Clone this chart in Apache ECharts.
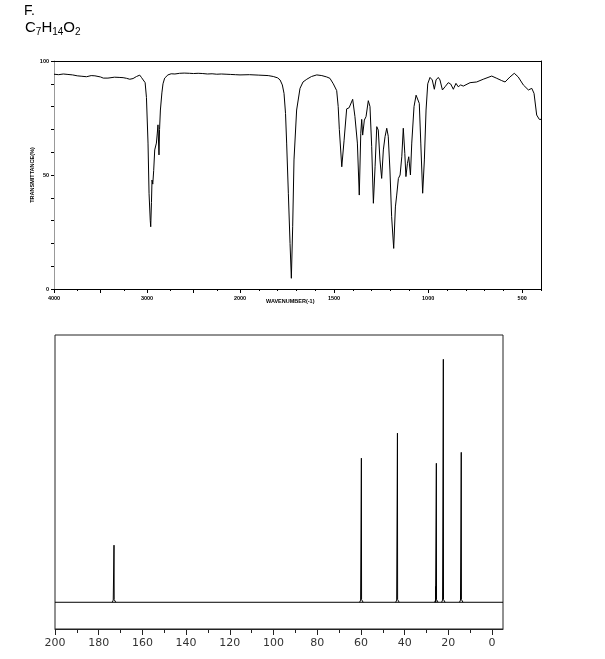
<!DOCTYPE html>
<html><head><meta charset="utf-8">
<script src="https://cdn.jsdelivr.net/npm/echarts@6/dist/echarts.min.js"></script>
<style>html,body{margin:0;padding:0;background:#fff}#c{width:605px;height:659px}</style>
</head><body><div id="c"></div>
<script>
// ---------- IR spectrum (wavenumber cm-1, transmittance %) ----------
const irWavenumber = [4000,3950,3900,3850,3800,3750,3700,3650,3600,3560,3500,3470,3450,3420,3400,3350,3300,3257,3220,3185,3150,3113,3100,3078,3060,3042,3020,3006,2989,2978,2965,2960,2952,2946,2938,2928,2917,2899,2890,2882,2878,2871,2865,2856,2840,2828,2810,2775,2740,2700,2650,2600,2542,2500,2450,2400,2350,2300,2250,2200,2150,2100,2050,2000,1950,1900,1850,1823,1800,1787,1775,1766,1758,1752,1743,1734,1727,1720,1713,1699,1681,1665,1645,1620,1592,1565,1539,1522,1504,1486,1478,1472,1459,1447,1433,1420,1412,1401,1389,1376,1366,1358,1353,1348,1339,1330,1318,1309,1300,1291,1282,1273,1265,1256,1247,1238,1229,1220,1212,1203,1194,1183,1174,1167,1158,1149,1140,1132,1124,1118,1110,1103,1094,1087,1075,1064,1055,1047,1039,1029,1020,1011,1002,990,978,967,958,946,937,924,910,893,880,866,852,840,827,813,777,742,707,662,635,609,591,565,542,521,494,467,449,437,423,409,400];
const irTransmittance = [94.2,94.0,94.3,94.1,93.9,93.5,93.3,93.1,93.6,93.5,93.0,92.5,91.7,92.5,92.8,92.9,92.8,92.7,92.4,92.0,92.3,93.2,92.6,93.8,92.8,92.5,90.5,84,64,42,30,27.3,38,47.8,46,52,61,64,68,72,72,58.8,70,78.5,86,90,92.5,93.9,94.4,94.3,94.6,94.7,94.6,94.5,94.6,94.5,94.3,94.4,94.2,94.3,94.2,94.1,94.0,93.9,94.0,93.8,93.6,93.2,92.6,91.7,89.5,85.8,77,64,42,20,4.7,27.3,56.6,78.5,88,90.8,92,93.2,93.9,93.6,93,92.4,90,87,80,70,53.6,65,79,79.5,80,83.2,75.6,64,41.2,68.3,74.4,67.5,74.1,75.6,82.6,80,62.4,37.6,53.6,71.2,69.7,56.6,48.5,61,66.8,70.5,67,52.2,31.7,17.8,36,41.2,48.5,50,58,70.5,59.5,49.3,55.1,58,50,64,80,85,85.8,81.4,64,42,56.6,78.5,90,92.8,91.7,87.6,91.7,92.8,91.7,87.3,88.7,90.5,89.9,87.6,90.2,88.7,89.5,89,90.5,90.8,92,93.4,92.4,91.4,90.8,93,94.6,93,89.5,87.3,88,85.8,76.3,74.4,74.4];
const irYLabels = [0, 50, 100];
const irXLabelsHigh = [3000, 4000];
const irXMajorHigh = [2500, 3000, 3500, 4000];
const irXMinorHigh = [2250, 2750, 3250, 3750];
const irXLabelsLow = [500, 1000, 1500, 2000];
const irXMinorLow = [400,600,700,800,900,1100,1200,1300,1400,1600,1700,1800,1900];

// ---------- 13C NMR spectrum (ppm, relative intensity) ----------
const nmrShift = [173.0, 59.8, 43.3, 25.8, 25.5, 22.3, 14.1];
const nmrIntensity = [23.5, 59.3, 69.6, 6.5, 57.2, 100, 61.7];
const nmrTicks = [0,20,40,60,80,100,120,140,160,180,200];
const nmrMinorTicks = [10,30,50,70,90,110,130,150,170,190];

// ---------- build series data ----------
const irPairs = irWavenumber.map((w, i) => [w, irTransmittance[i]]);
const irHigh = irPairs.filter(p => p[0] >= 2000);
const irLow = irPairs.filter(p => p[0] <= 2000);

const nmrPeaks = [];
nmrShift.forEach((s, i) => {
  const h = nmrIntensity[i];
  if (h > 20) {
    nmrPeaks.push([s + 0.8, 0], [s + 0.35, 0.9], [s + 0.08, 1.1], [s, h], [s - 0.08, 1.1], [s - 0.35, 0.9], [s - 0.8, 0]);
  } else {
    nmrPeaks.push([s + 0.06, 0], [s, h], [s - 0.06, 0]);
  }
  nmrPeaks.push([s, '-']);
});

const tinyFont = { fontSize: 5.5, fontFamily: 'Liberation Sans', fontWeight: 'bold', color: '#000' };
const plain = v => String(v);
const blackLine = { show: true, onZero: false, lineStyle: { color: '#000', width: 1 } };
const noLine = { show: false, onZero: false };

// an overlaid axis that only draws ticks at the given values
function tickAxis(grid, min, max, values, len, color) {
  return { gridIndex: grid, type: 'value', min: min, max: max, inverse: true, position: 'bottom',
    axisLine: noLine, splitLine: { show: false }, axisLabel: { show: false },
    axisTick: { show: true, inside: false, customValues: values, length: len, lineStyle: { color: color, width: 1 } } };
}

const chart = echarts.init(document.getElementById('c'), null, { renderer: 'canvas' });
chart.setOption({
  animation: false,
  backgroundColor: '#fff',
  title: [
    { text: 'F.', left: 24, top: 4, padding: 0,
      textStyle: { fontSize: 14, fontWeight: 'normal', fontFamily: 'Liberation Sans', color: '#000' } },
    { text: '{m|C}{s|7}{m|H}{s|14}{m|O}{s|2}', left: 25, top: 20, padding: 0,
      textStyle: { fontWeight: 'normal', rich: {
        m: { fontSize: 15, fontWeight: 'normal', fontFamily: 'Liberation Sans', color: '#000', lineHeight: 15 },
        s: { fontSize: 10, fontWeight: 'normal', fontFamily: 'Liberation Sans', color: '#000', lineHeight: 10, padding: [9, 0, 0, 0] }
      } } },
    { text: 'WAVENUMBER(-1)', left: 266, top: 298, padding: 0,
      textStyle: Object.assign({}, tinyFont) }
  ],
  grid: [
    { left: 54, top: 61, width: 186, height: 228, containLabel: false },
    { left: 240, top: 61, width: 301, height: 228, containLabel: false },
    { left: 55, top: 335, width: 448, height: 294, show: true, borderColor: '#222', borderWidth: 1, containLabel: false }
  ],
  xAxis: [
    { gridIndex: 0, type: 'value', min: 2000, max: 4000, inverse: true, position: 'bottom',
      axisLine: blackLine, splitLine: { show: false }, axisTick: { show: false },
      axisLabel: Object.assign({ show: true, customValues: irXLabelsHigh, margin: 6, formatter: plain }, tinyFont) },
    { gridIndex: 0, type: 'value', min: 2000, max: 4000, inverse: true, position: 'top',
      axisLine: blackLine, axisTick: { show: false }, axisLabel: { show: false }, splitLine: { show: false } },
    tickAxis(0, 2000, 4000, irXMajorHigh, 4, '#000'),
    tickAxis(0, 2000, 4000, irXMinorHigh, 2, '#000'),
    { gridIndex: 1, type: 'value', min: 400, max: 2000, inverse: true, position: 'bottom',
      axisLine: blackLine, splitLine: { show: false }, axisTick: { show: false },
      axisLabel: Object.assign({ show: true, customValues: irXLabelsLow, margin: 6, formatter: plain }, tinyFont) },
    { gridIndex: 1, type: 'value', min: 400, max: 2000, inverse: true, position: 'top',
      axisLine: blackLine, axisTick: { show: false }, axisLabel: { show: false }, splitLine: { show: false } },
    tickAxis(1, 400, 2000, irXLabelsLow, 4, '#000'),
    tickAxis(1, 400, 2000, irXMinorLow, 2, '#000'),
    { gridIndex: 2, type: 'value', min: -5, max: 200, inverse: true, position: 'bottom',
      axisLine: { show: true, onZero: false, lineStyle: { color: '#222', width: 1 } }, splitLine: { show: false },
      axisTick: { show: false },
      axisLabel: { show: true, customValues: nmrTicks, margin: 9, fontSize: 11, fontFamily: 'DejaVu Sans', color: '#333', formatter: plain } },
    tickAxis(2, -5, 200, nmrTicks, 6, '#222'),
    tickAxis(2, -5, 200, nmrMinorTicks, 4, '#222')
  ],
  yAxis: [
    { gridIndex: 0, type: 'value', min: 0, max: 100, interval: 10, position: 'left',
      axisLine: { show: true, onZero: false, lineStyle: { color: '#999', width: 1 } }, splitLine: { show: false },
      axisTick: { show: true, length: 3, lineStyle: { color: '#000' } },
      axisLabel: Object.assign({ customValues: irYLabels, margin: 5, formatter: plain }, tinyFont),
      name: 'TRANSMITTANCE(%)', nameLocation: 'middle', nameGap: 16, nameRotate: 90,
      nameTextStyle: Object.assign({}, tinyFont) },
    { gridIndex: 1, type: 'value', min: 0, max: 100, show: false },
    { gridIndex: 1, type: 'value', min: 0, max: 100, position: 'right',
      axisLine: { show: true, onZero: false, lineStyle: { color: '#000', width: 1 } },
      axisTick: { show: false }, axisLabel: { show: false }, splitLine: { show: false } },
    { gridIndex: 2, type: 'value', min: -11, max: 110, show: false }
  ],
  series: [
    { type: 'line', xAxisIndex: 0, yAxisIndex: 0, data: irHigh, symbol: 'none',
      lineStyle: { color: '#000', width: 1 }, silent: true },
    { type: 'line', xAxisIndex: 4, yAxisIndex: 1, data: irLow, symbol: 'none',
      lineStyle: { color: '#000', width: 1 }, silent: true },
    { type: 'line', xAxisIndex: 8, yAxisIndex: 3, data: [[200, 0], [-5, 0]], symbol: 'none',
      lineStyle: { color: '#000', width: 1 }, silent: true },
    { type: 'line', xAxisIndex: 8, yAxisIndex: 3, data: nmrPeaks, symbol: 'none', connectNulls: false,
      lineStyle: { color: '#000', width: 1 }, silent: true }
  ]
});
</script>
</body></html>
